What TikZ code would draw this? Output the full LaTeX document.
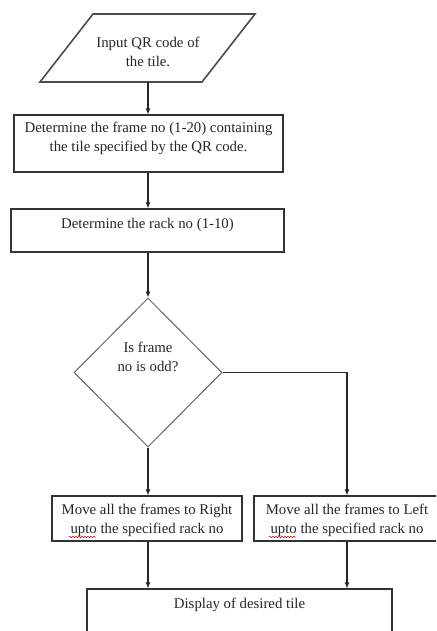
\documentclass[tikz,border=0pt]{standalone}
\usepackage{fontspec}
\setmainfont{Liberation Serif}
\usetikzlibrary{shapes.geometric,arrows.meta,decorations.pathmorphing}
\begin{document}
\begin{tikzpicture}[x=1pt,y=-1pt,
  box/.style={draw=black!80,line width=1.2pt,minimum width=#1,inner sep=0pt},
  txt/.style={align=center,inner sep=0pt,font=\fontsize{14.8}{19.5}\selectfont,text=black!85},
  arr/.style={draw=black!85,line width=1.1pt,-{Latex[length=6pt,width=5pt]}},
  squig/.style={draw=red!80!black,line width=0.5pt,decorate,decoration={snake,amplitude=0.8pt,segment length=3pt}}]
\useasboundingbox (0,0) rectangle (436,631);
\clip (0,0) rectangle (436,631);
% input parallelogram
\draw[draw=black!70,line width=1.6pt] (93,14) -- (255,14) -- (202,82) -- (40,82) -- cycle;
\coordinate (inS) at (148,82);
\node[txt] (t0) at (148,52) {Input QR code of\\the tile.};
% box 1
\node[box=269pt,minimum height=57pt] (b1) at (148.5,143.5) {};
\node[txt] (t1) at (148.5,138.5) {Determine the frame no (1-20) containing\\the tile specified by the QR code.};
% box 2
\node[box=273pt,minimum height=43pt] (b2) at (147.5,230.5) {};
\node[txt] (t2) at (147.5,224.5) {Determine the rack no (1-10)};
% decision
\node[diamond,draw=black!60,line width=1pt,minimum width=148pt,minimum height=149pt,inner sep=0pt] (d) at (148,372.5) {};
\node[txt] (t3) at (148,357) {Is frame\\no is odd?};
% left / right boxes
\node[box=190pt,minimum height=45pt] (bL) at (147,518.5) {};
\node[txt] (tL) at (147,520.5) {Move all the frames to Right\\upto the specified rack no};
\node[box=186pt,minimum height=45pt] (bR) at (347,518.5) {};
\node[txt] (tR) at (347,520.5) {Move all the frames to Left\\upto the specified rack no};
\draw[squig] (69,537) -- (96,537);
\draw[squig] (269,537) -- (296,537);
% bottom box
\node[box=305pt,minimum height=70pt] (bB) at (239.5,624) {};
\node[txt] (tB) at (239.5,604.5) {Display of desired tile};
% connectors
\draw[arr] (inS) -- (inS |- b1.north);
\draw[arr] (b1.south -| inS) -- (b2.north -| inS);
\draw[arr] (b2.south -| d.north) -- (d.north);
\draw[arr] (d.south) -- (d.south |- bL.north);
\draw[arr] (d.east) -| (bR.north);
\draw[arr] (d.south |- bL.south) -- (d.south |- bB.north);
\draw[arr] (bR.south) -- (bR.south |- bB.north);
\end{tikzpicture}
\end{document}
